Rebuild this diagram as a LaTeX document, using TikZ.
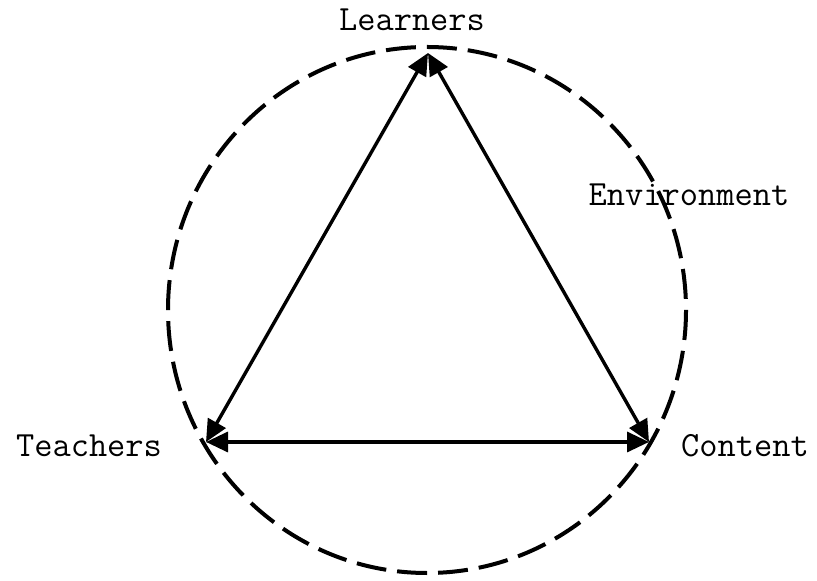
\documentclass[tikz,border=0pt]{standalone}
\usepackage{fontspec}
\usetikzlibrary{arrows.meta}
\begin{document}
\begin{tikzpicture}[x=0.5pt,y=-0.5pt,
  lbl/.style={font=\ttfamily\fontsize{17.7}{20}\selectfont, inner sep=0pt},
  env/.style={dashed, dash pattern=on 15pt off 5.5pt, line width=2pt},
  rel/.style={{Triangle[length=11pt,width=10pt]}-{Triangle[length=11pt,width=10pt]}, line width=1.7pt}]
\useasboundingbox (0,0) rectangle (817,581);
\draw[env] (427,310) ellipse [x radius=259, y radius=263];
\coordinate (L) at (428,53);
\coordinate (T) at (206,442);
\coordinate (C) at (649,442);
\draw[rel] (L) -- (T);
\draw[rel] (L) -- (C);
\draw[rel] (T) -- (C);
\node[lbl] (learners) at (412,20) {Learners};
\node[lbl] (teachers) at (89,446) {Teachers};
\node[lbl] (content) at (745,446) {Content};
\node[lbl] (environment) at (689,195) {Environment};
\end{tikzpicture}
\end{document}
